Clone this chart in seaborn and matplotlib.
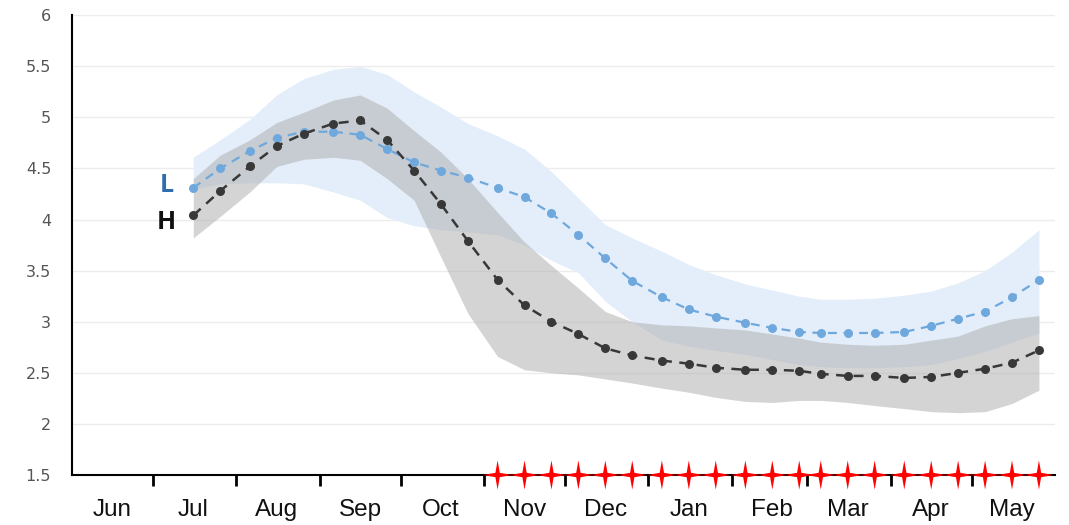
import pandas as pd
import matplotlib.pyplot as plt
import matplotlib.dates as mdates
from matplotlib.path import Path
import seaborn as sns

# --- data ---
DEKADS = [
    "2022-07-16", "2022-07-26",
    "2022-08-06", "2022-08-16", "2022-08-26",
    "2022-09-06", "2022-09-16", "2022-09-26",
    "2022-10-06", "2022-10-16", "2022-10-26",
    "2022-11-06", "2022-11-16", "2022-11-26",
    "2022-12-06", "2022-12-16", "2022-12-26",
    "2023-01-06", "2023-01-16", "2023-01-26",
    "2023-02-06", "2023-02-16", "2023-02-26",
    "2023-03-06", "2023-03-16", "2023-03-26",
    "2023-04-06", "2023-04-16", "2023-04-26",
    "2023-05-06", "2023-05-16", "2023-05-26",
]

L_MEAN = [4.31, 4.50, 4.67, 4.80, 4.86, 4.86, 4.83, 4.69, 4.56, 4.48, 4.41,
          4.31, 4.22, 4.06, 3.85, 3.62, 3.40, 3.24, 3.12, 3.05, 2.99, 2.94,
          2.90, 2.89, 2.89, 2.89, 2.90, 2.96, 3.03, 3.10, 3.24, 3.41]
L_HIGH = [4.61, 4.78, 4.98, 5.22, 5.38, 5.47, 5.50, 5.42, 5.25, 5.10, 4.94,
          4.82, 4.69, 4.47, 4.21, 3.95, 3.82, 3.69, 3.56, 3.46, 3.37, 3.31,
          3.25, 3.22, 3.22, 3.23, 3.26, 3.30, 3.38, 3.50, 3.68, 3.90]
L_LOW = [4.30, 4.35, 4.36, 4.36, 4.35, 4.27, 4.19, 4.02, 3.94, 3.90, 3.88,
         3.85, 3.75, 3.60, 3.48, 3.20, 3.00, 2.82, 2.76, 2.72, 2.68, 2.63,
         2.58, 2.56, 2.55, 2.55, 2.56, 2.58, 2.64, 2.71, 2.80, 2.89]

H_MEAN = [4.04, 4.28, 4.52, 4.72, 4.84, 4.94, 4.97, 4.78, 4.48, 4.15, 3.79,
          3.41, 3.16, 3.00, 2.88, 2.74, 2.67, 2.62, 2.59, 2.55, 2.53, 2.53,
          2.52, 2.49, 2.47, 2.47, 2.45, 2.46, 2.50, 2.54, 2.60, 2.72]
H_HIGH = [4.40, 4.63, 4.78, 4.95, 5.05, 5.17, 5.22, 5.09, 4.87, 4.66, 4.40,
          4.07, 3.78, 3.55, 3.33, 3.10, 3.00, 2.97, 2.96, 2.94, 2.92, 2.88,
          2.84, 2.80, 2.78, 2.77, 2.78, 2.82, 2.86, 2.96, 3.03, 3.06]
H_LOW = [3.82, 4.03, 4.27, 4.52, 4.59, 4.61, 4.58, 4.40, 4.19, 3.63, 3.08,
         2.66, 2.53, 2.50, 2.48, 2.44, 2.40, 2.35, 2.31, 2.26, 2.22, 2.21,
         2.23, 2.23, 2.21, 2.18, 2.15, 2.12, 2.11, 2.12, 2.20, 2.33]

MONTH_LABELS = ["Jun", "Jul", "Aug", "Sep", "Oct", "Nov",
                "Dec", "Jan", "Feb", "Mar", "Apr", "May"]
YTICKS = [1.5, 2, 2.5, 3, 3.5, 4, 4.5, 5, 5.5, 6]
STAR_START = 11  # stars from the first dekad of November

BLUE = "#6fa8dc"
DARK = "#383838"

# --- figure ---
sns.set_style("white")
plt.rcParams["font.family"] = ["DejaVu Sans"]

df = pd.DataFrame({
    "date": pd.to_datetime(DEKADS),
    "L": L_MEAN, "L_lo": L_LOW, "L_hi": L_HIGH,
    "H": H_MEAN, "H_lo": H_LOW, "H_hi": H_HIGH,
})

fig, ax = plt.subplots(figsize=(10.69, 5.25), dpi=100)
fig.subplots_adjust(left=0.0674, right=0.987, top=0.971, bottom=0.0952)

ax.fill_between(df["date"], df["L_lo"], df["L_hi"], color="#e3eefa", lw=0, zorder=1)
ax.fill_between(df["date"], df["H_lo"], df["H_hi"], color="#ababab", alpha=0.5, lw=0, zorder=2)

sns.lineplot(data=df, x="date", y="L", color=BLUE, marker="o", markersize=6.5,
             markeredgewidth=0, linestyle=(0, (4, 3)), lw=1.6, ax=ax, zorder=3)
sns.lineplot(data=df, x="date", y="H", color=DARK, marker="o", markersize=6.5,
             markeredgewidth=0, linestyle=(0, (4, 3)), lw=1.8, ax=ax, zorder=4)

# red 4-point stars sitting on the x axis, arms touching each other
star = Path([(0, 1), (0.15, 0.15), (1.0, 0), (0.15, -0.15), (0, -1),
             (-0.15, -0.15), (-1.0, 0), (-0.15, 0.15), (0, 1)], closed=True)
stars = df.iloc[STAR_START:]
sns.scatterplot(x=stars["date"], y=[YTICKS[0]] * len(stars), marker=star, s=440,
                color="#ff0000", edgecolor="none", clip_on=False, zorder=6, ax=ax)

# L / H labels
ax.text(pd.Timestamp("2022-07-06"), 4.33, "L", color="#2f6eab", fontsize=18,
        fontweight="bold", ha="center", va="center", family=["Open Sans", "DejaVu Sans"])
ax.text(pd.Timestamp("2022-07-06"), 3.97, "H", color="#111111", fontsize=18,
        fontweight="bold", ha="center", va="center", family=["Open Sans", "DejaVu Sans"])

# axes
x0, x1 = pd.Timestamp("2022-06-01"), pd.Timestamp("2023-06-01")
ax.set_xlim(x0, x1)
ax.set_ylim(1.5, 6)
ax.set_yticks(YTICKS)
ax.set_yticklabels([f"{v:g}" for v in YTICKS], color="#555555", fontsize=11.5)
ax.tick_params(axis="y", length=0, pad=15)
ax.yaxis.grid(True, color="#ececec", lw=1)
ax.set_axisbelow(True)

month_starts = pd.date_range("2022-06-01", "2023-05-01", freq="MS")
mid_months = month_starts + pd.Timedelta(days=15)
ax.set_xticks(mdates.date2num(mid_months))
ax.set_xticklabels(MONTH_LABELS, fontsize=17.5, family=["Liberation Sans", "DejaVu Sans"],
                   color="#111111")
ax.tick_params(axis="x", which="major", length=0, pad=17)

dekad_edges = [d + pd.Timedelta(days=k) for d in month_starts for k in (0, 10, 20)]
ax.set_xticks(mdates.date2num(dekad_edges), minor=True)
ax.tick_params(axis="x", which="minor", length=6, width=1, color="#d9d9d9")

sec = ax.secondary_xaxis("bottom")
sec.set_xticks(mdates.date2num(month_starts[1:]))
sec.tick_params(length=8, width=2, color="black", labelbottom=False)
sec.spines["bottom"].set_visible(False)

for side in ("top", "right"):
    ax.spines[side].set_visible(False)
for side in ("left", "bottom"):
    ax.spines[side].set_color("black")
    ax.spines[side].set_linewidth(1.5)

ax.set_xlabel("")
ax.set_ylabel("")
if ax.get_legend():
    ax.get_legend().remove()

fig.savefig("out.png", dpi=100)
